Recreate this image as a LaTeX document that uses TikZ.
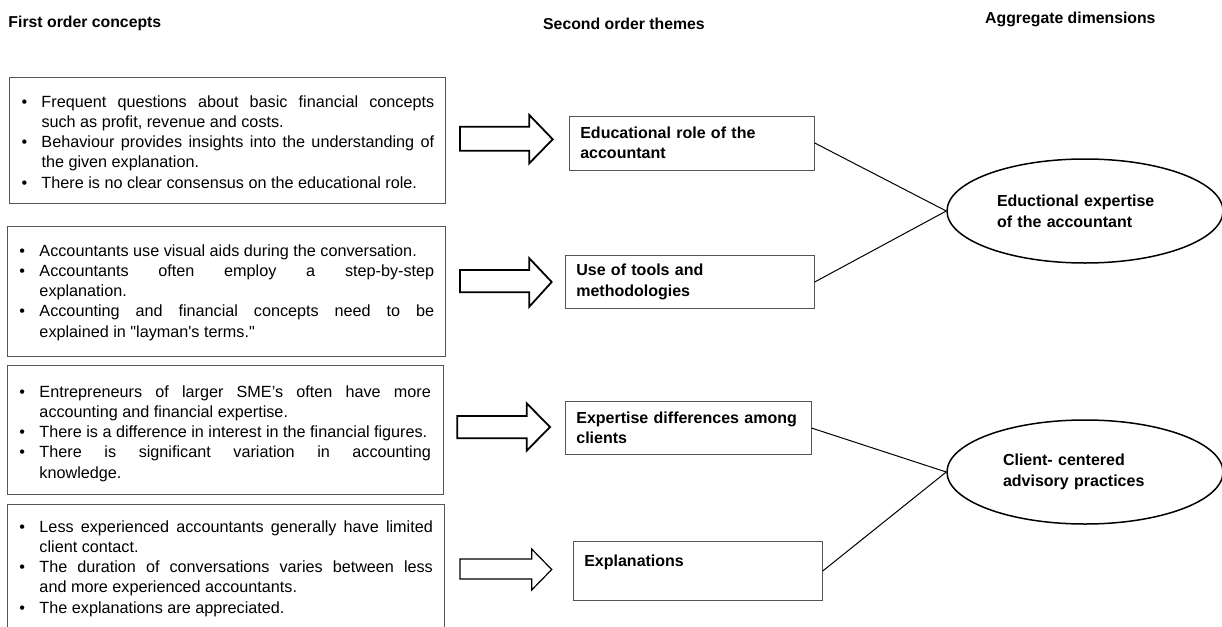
\documentclass[tikz,border=0pt]{standalone}
\usepackage{fontspec}
\newfontfamily\bodyfont{Liberation Sans}
\usetikzlibrary{shapes.geometric}
\definecolor{boxgray}{RGB}{85,85,85}
\tolerance=9999
\hbadness=10000
\hyphenpenalty=10000
\exhyphenpenalty=10000
\newcommand\bitem[1]{\par\hangindent=20pt\hangafter=1\noindent\makebox[20pt][l]{\rule{0pt}{12pt}•}#1\par}
\newcommand\blockarr[9]{\draw[barrow,line width=#1] (#2,#3) -- (#5,#3) -- (#5,#6) -- (#8,#9) -- (#5,#7) -- (#5,#4) -- (#2,#4) -- cycle;}
\tikzset{
  concept/.style={draw=boxgray, line width=0.8pt, rectangle, inner sep=0pt},
  concepttext/.style={anchor=north west, inner sep=0pt, align=justify,
    font=\bodyfont\fontsize{16.2pt}{20.3pt}\selectfont},
  theme/.style={draw=boxgray, line width=0.8pt, rectangle, inner xsep=11pt, inner ysep=0pt,
    align=left, font=\bodyfont\bfseries\fontsize{16pt}{20.3pt}\selectfont},
  dim/.style={draw=black, line width=1.5pt, ellipse, minimum width=276pt, minimum height=104pt,
    inner sep=0pt, align=left, font=\bodyfont\bfseries\fontsize{16pt}{21pt}\selectfont},
  header/.style={anchor=base west, inner sep=0pt,
    font=\bodyfont\bfseries\fontsize{15.8pt}{18pt}\selectfont},
  link/.style={draw=black, line width=1pt},
  barrow/.style={draw=black, fill=white, line join=miter}
}
\begin{document}
\begin{tikzpicture}[x=1pt,y=-1pt]
\useasboundingbox (0,0) rectangle (1222,626);
\clip (0,0) rectangle (1222,626);
\fill[white] (0,0) rectangle (1222,626);

% headers
\node[header] (h1) at (8.3,27.7) {First order concepts};
\node[header] (h2) at (543,29.5) {Second order themes};
\node[header] (h3) at (985,24) {Aggregate dimensions};

% first order concept boxes
\node[concept, minimum width=436.4pt, minimum height=126pt] (c1) at (227.5,140.3) {};
\node[concept, minimum width=438.4pt, minimum height=130pt] (c2) at (226.5,291) {};
\node[concept, minimum width=436pt, minimum height=128.3pt] (c3) at (225.3,429.8) {};
\node[concept, minimum width=437pt, minimum height=135pt] (c4) at (225.8,572) {};

\node[concepttext, text width=412.7pt] (c1t) at (21.3,86.5) {%
\bitem{Frequent questions about basic financial concepts \linebreak such as profit, revenue and costs.}
\bitem{Behaviour provides insights into the understanding of \linebreak the given explanation.}
\bitem{There is no clear consensus on the educational role.}};
\node[concepttext, text width=414.7pt] (c2t) at (19.3,235.5) {%
\bitem{Accountants use visual aids during the conversation.}
\bitem{Accountants often employ a step-by-step \linebreak explanation.}
\bitem{Accounting and financial concepts need to be \linebreak explained in "layman's terms."}};
\node[concepttext, text width=411.4pt] (c3t) at (19.3,376.5) {%
\bitem{Entrepreneurs of larger SME’s often have more \linebreak accounting and financial expertise.}
\bitem{There is a difference in interest in the financial figures.}
\bitem{There is significant variation in accounting \linebreak knowledge.}};
\node[concepttext, text width=413.4pt] (c4t) at (19.3,511.5) {%
\bitem{Less experienced accountants generally have limited \linebreak client contact.}
\bitem{The duration of conversations varies between less \linebreak and more experienced accountants.}
\bitem{The explanations are appreciated.}};

% block arrows
\blockarr{1.8pt}{460}{126.7}{150.7}{529.3}{115}{163.3}{552.7}{139.3}
\blockarr{1.8pt}{460}{270}{292.3}{529.3}{258.3}{306.7}{551.7}{282}
\blockarr{1.8pt}{457.3}{416}{438.3}{526.7}{403.3}{450.7}{550}{427}
\blockarr{1.2pt}{460}{559}{579}{531.7}{549}{590}{551.7}{569.5}

% second order themes
\node[theme, text width=223pt, minimum height=54pt] (t1) at (691.8,143) {Educational role of the\\accountant};
\node[theme, text width=227pt, minimum height=53.7pt] (t2) at (689.8,282) {Use of tools and\\methodologies};
\node[theme, text width=223.7pt, minimum height=52.3pt] (t3) at (688.2,428) {Expertise differences among\\clients};
\node[theme, text width=227pt, minimum height=58.3pt] (t4) at (697.8,571) {Explanations\\\mbox{}};

% aggregate dimensions
\node[dim, text width=176pt] (e1) at (1085,211) {Eductional expertise\\of the accountant};
\node[dim, text width=164pt] (e2) at (1085,472) {Client- centered\\advisory practices};

% connectors
\draw[link] (t1.east) -- (e1.west);
\draw[link] (t2.east) -- (e1.west);
\draw[link] (t3.east) -- (e2.west);
\draw[link] (t4.east) -- (e2.west);
\end{tikzpicture}
\end{document}
